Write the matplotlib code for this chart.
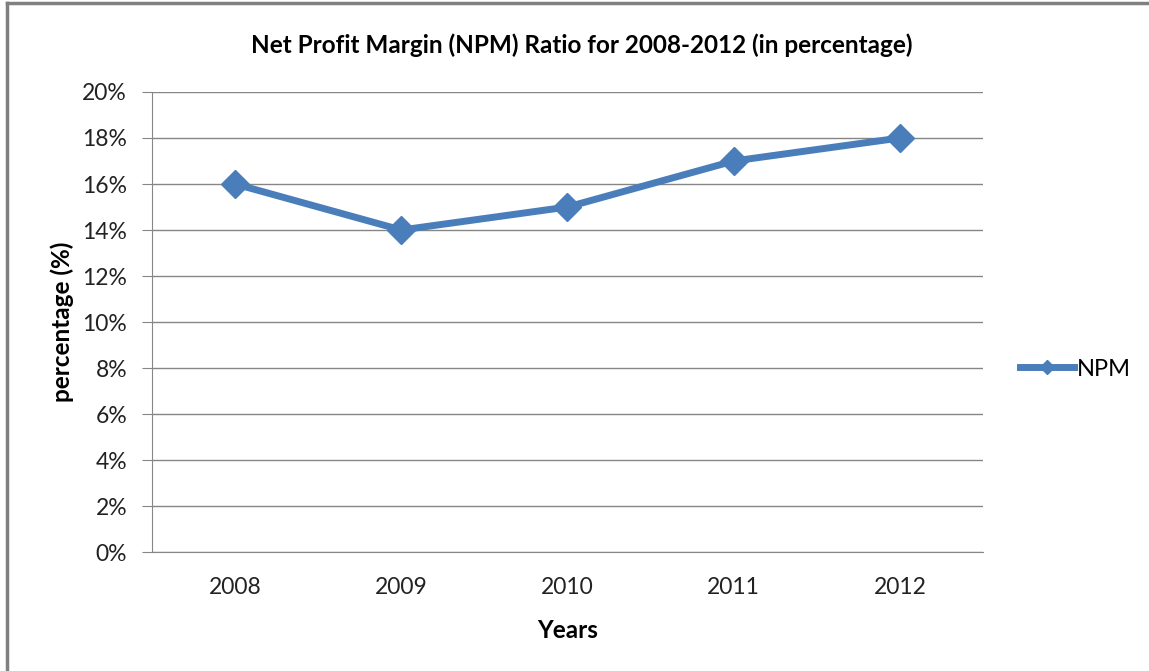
import matplotlib.pyplot as plt
from matplotlib.lines import Line2D
from matplotlib.ticker import FuncFormatter

plt.rcParams['font.family'] = ['Lato', 'DejaVu Sans']

# data
years = ["2008", "2009", "2010", "2011", "2012"]
npm = [16, 14, 15, 17, 18]
y_ticks = [0, 2, 4, 6, 8, 10, 12, 14, 16, 18, 20]

blue = "#4A7EBB"
grey = "#868686"

fig = plt.figure(figsize=(11.49, 6.71), dpi=100)
ax = fig.add_axes([0.1323, 0.1773, 0.7232, 0.6856])

x = range(len(years))
ax.plot(x, npm, color=blue, linewidth=5, marker="D", markersize=14,
        markeredgecolor=blue, label="NPM", zorder=3)

ax.set_xlim(-0.5, len(years) - 0.5)
ax.set_ylim(0, 20)
ax.set_yticks(y_ticks)
ax.yaxis.set_major_formatter(FuncFormatter(lambda v, p: f"{v:.0f}%"))
ax.set_xticks(list(x))
ax.set_xticklabels(years)

ax.grid(axis="y", color=grey, linewidth=1)
ax.set_axisbelow(True)
for side in ["top", "right"]:
    ax.spines[side].set_visible(False)
ax.spines["left"].set_color(grey)
ax.spines["bottom"].set_color(grey)
ax.tick_params(axis="y", length=7, color=grey, pad=11, labelsize=16.5,
               labelcolor="#222222")
ax.tick_params(axis="x", length=0, pad=18, labelsize=16.5, labelcolor="#222222")

ax.set_title("Net Profit Margin (NPM) Ratio for 2008-2012 (in percentage)",
             fontsize=17.5, fontweight="bold", pad=28, x=0.517)
ax.set_xlabel("Years", fontsize=17.5, fontweight="bold", labelpad=15)
ax.set_ylabel("percentage (%)", fontsize=17.5, fontweight="bold", labelpad=6)

handle = Line2D([], [], color=blue, linewidth=5, marker="D", markersize=7,
                markeredgecolor=blue)
fig.legend([handle], ["NPM"], loc="center left", bbox_to_anchor=(0.869, 0.45),
           frameon=False, fontsize=17, handlelength=2.3, handletextpad=0.1)

# outer frame (top and left edges)
fig.add_artist(Line2D([0.006, 1.0], [0.995, 0.995], color="#808080",
                      linewidth=2.5, transform=fig.transFigure))
fig.add_artist(Line2D([0.006, 0.006], [0.0, 0.995], color="#808080",
                      linewidth=2.5, transform=fig.transFigure))

plt.savefig("out.png", dpi=100)
